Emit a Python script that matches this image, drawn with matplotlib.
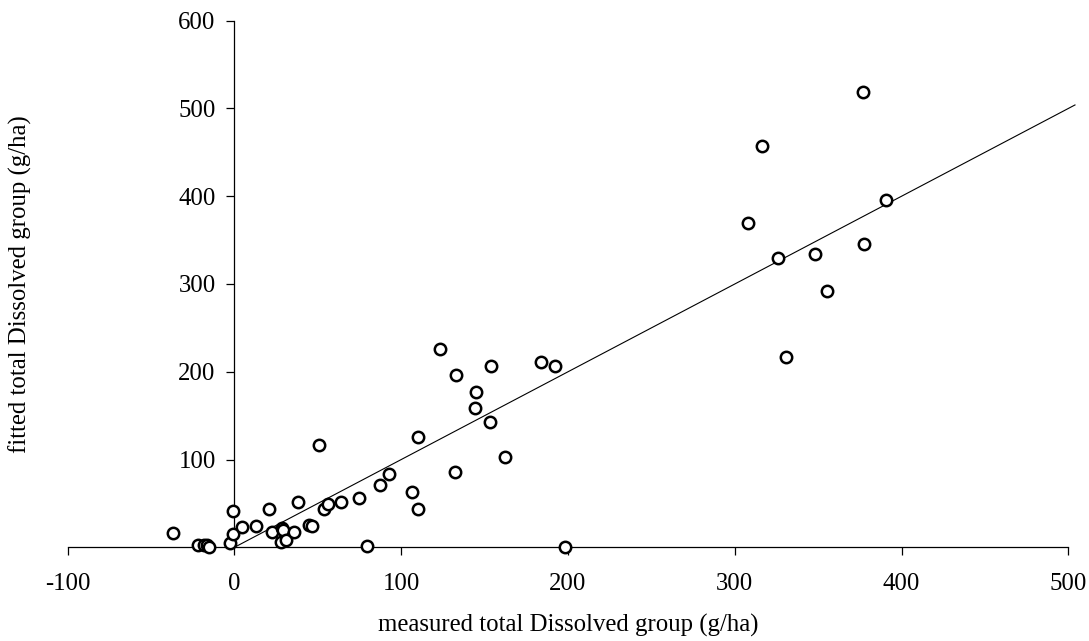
#!/usr/bin/env python3
"""
Measured vs fitted total Dissolved group (g/ha), with 1:1 line -> out.png
"""
import matplotlib
matplotlib.use("Agg")
import matplotlib.pyplot as plt

# measured / fitted pairs (g/ha)
measured = [-37.1, -21.7, -18.1, -16.3, -15.1, -2.7, -0.7, -0.7, 4.3, 12.9,
            20.7, 22.5, 28.3, 29.3, 27.9, 30.9, 35.7, 37.9, 44.5, 46.7,
            50.8, 53.5, 56.2, 63.7, 74.5, 79.6, 87.4, 92.5, 106.3, 110.2,
            109.9, 123.2, 132.8, 153.8, 184.0, 192.2, 144.6, 144.2, 153.0, 162.0,
            132.4, 198.2, 376.9, 316.3, 390.6, 307.7, 326.1, 348.1, 377.2, 355.3,
            330.5]
fitted = [16.6, 3.0, 2.3, 2.3, 0.7, 5.2, 15.2, 41.4, 23.5, 24.6,
          44.0, 17.1, 22.0, 19.7, 5.7, 8.3, 17.1, 51.3, 25.1, 24.3,
          116.6, 43.3, 49.0, 51.6, 56.5, 1.8, 71.3, 83.2, 63.3, 125.3,
          43.6, 225.6, 196.6, 206.2, 210.8, 206.9, 176.9, 158.4, 142.4, 102.5,
          85.5, 0.3, 518.4, 457.6, 395.4, 369.1, 330.0, 334.2, 346.1, 292.0,
          216.5]

# 1:1 reference line extent
one_to_one = [0, 504]

x_ticks = [-100, 0, 100, 200, 300, 400, 500]
y_ticks = [100, 200, 300, 400, 500, 600]

plt.rcParams["font.family"] = ["Liberation Serif", "DejaVu Serif"]
plt.rcParams["font.size"] = 17.8
plt.rcParams["axes.unicode_minus"] = False

fig = plt.figure(figsize=(10.89, 6.41), dpi=100)
ax = fig.add_axes([0.0622, 0.1462, 0.9188, 0.8215])

ax.plot(one_to_one, one_to_one, color="black", lw=0.8, clip_on=False, zorder=2)
ax.plot(measured, fitted, linestyle="none", marker="o", ms=8.2, mew=1.8,
        mfc="white", mec="black", clip_on=False, zorder=3)

ax.set_xlim(-100, 500)
ax.set_ylim(0, 600)
ax.set_xticks(x_ticks)
ax.set_yticks(y_ticks)

ax.spines["left"].set_position(("data", 0))
ax.spines["bottom"].set_position(("data", 0))
ax.spines["top"].set_visible(False)
ax.spines["right"].set_visible(False)
for s in ("left", "bottom"):
    ax.spines[s].set_linewidth(0.9)

ax.tick_params(axis="x", direction="out", length=5.5, width=0.9, pad=13)
ax.tick_params(axis="y", direction="out", length=5.5, width=0.9, pad=8)

ax.set_xlabel("measured total Dissolved group (g/ha)")
ax.xaxis.set_label_coords(0.5, -0.148)
ax.xaxis.label.set_va("center")
ax.set_ylabel("fitted total Dissolved group (g/ha)")
ax.yaxis.set_label_coords(-0.047, 0.5)
ax.yaxis.label.set_va("center")

fig.savefig("out.png", dpi=100)
print("Saved out.png")
